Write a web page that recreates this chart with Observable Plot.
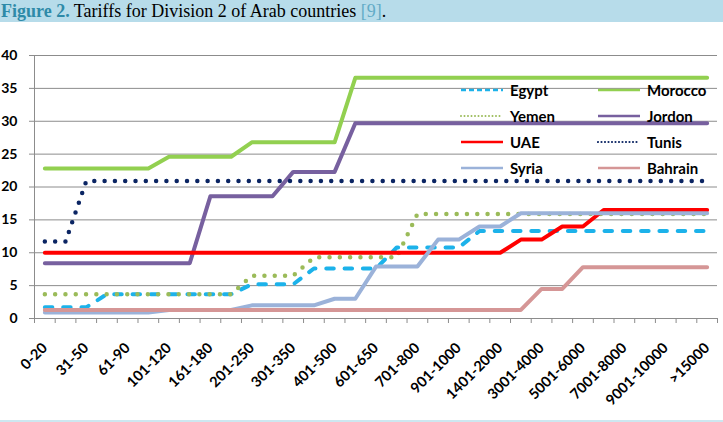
<!DOCTYPE html>
<html>
<head>
<meta charset="utf-8">
<script src="https://cdn.jsdelivr.net/npm/d3@7"></script>
<script src="https://cdn.jsdelivr.net/npm/@observablehq/plot@0.6"></script>
<style>
  html, body { margin: 0; padding: 0; background: #fff; }
  #wrap { position: relative; width: 723px; height: 422px; overflow: hidden; }
  #title {
    height: 22px; line-height: 22px; background: #b7dcea; padding-left: 1px;
    font-family: "Liberation Serif", "Times New Roman", serif; font-size: 18px;
    white-space: nowrap; color: #000;
  }
  #title .fig { color: #2e8aa8; font-weight: bold; }
  #title .ref { color: #62abc6; }
  #chart svg { display: block; }
  #legend {
    position: absolute; left: 460px; top: 77px;
    display: grid; grid-template-columns: 137px 137px; grid-auto-rows: 26px;
    font-family: Lato, sans-serif; font-weight: 700; font-size: 15px; color: #000;
  }
  #legend .item { display: flex; align-items: center; gap: 6px; }
  #foot { position: absolute; left: 0; top: 420px; width: 723px; height: 2px; background: #cde7f0; }
</style>
</head>
<body>
<div id="wrap">
  <div id="title"><span class="fig">Figure 2.</span> Tariffs for Division 2 of Arab countries <span class="ref">[9]</span>.</div>
  <div id="chart"></div>
  <div id="legend"></div>
  <div id="foot"></div>
</div>
<script>
// Consumption bands shown on the axis (every other band is labelled)
const tickLabels = ["0-20", "31-50", "61-90", "101-120", "161-180", "201-250", "301-350",
  "401-500", "601-650", "701-800", "901-1000", "1401-2000", "3001-4000", "5001-6000",
  "7001-8000", "9001-10000", ">15000"];
const bandCount = 33;

// Tariff per consumption band, one value per band
const egypt   = [1.7,1.7,1.7,3.7,3.7,3.7,3.7,3.7,3.7,3.7,5.2,5.2,5.2,7.6,7.6,7.6,7.6,10.8,10.8,10.8,10.8,13.3,13.3,13.3,13.3,13.3,13.3,13.3,13.3,13.3,13.3,13.3,13.3];
const morocco = [22.8,22.8,22.8,22.8,22.8,22.8,24.6,24.6,24.6,24.6,26.8,26.8,26.8,26.8,26.8,36.6,36.6,36.6,36.6,36.6,36.6,36.6,36.6,36.6,36.6,36.6,36.6,36.6,36.6,36.6,36.6,36.6,36.6];
const yemen   = [3.7,3.7,3.7,3.7,3.7,3.7,3.7,3.7,3.7,3.7,6.5,6.5,6.5,9.3,9.3,9.3,9.3,9.3,15.9,15.9,15.9,15.9,15.9,15.9,15.9,15.9,15.9,15.9,15.9,15.9,15.9,15.9,15.9];
const jordon  = [8.4,8.4,8.4,8.4,8.4,8.4,8.4,8.4,18.6,18.6,18.6,18.6,22.3,22.3,22.3,29.7,29.7,29.7,29.7,29.7,29.7,29.7,29.7,29.7,29.7,29.7,29.7,29.7,29.7,29.7,29.7,29.7,29.7];
const uae     = [10,10,10,10,10,10,10,10,10,10,10,10,10,10,10,10,10,10,10,10,10,10,10,12,12,14,14,16.5,16.5,16.5,16.5,16.5,16.5];
const tunis   = [11.7,11.7,20.9,20.9,20.9,20.9,20.9,20.9,20.9,20.9,20.9,20.9,20.9,20.9,20.9,20.9,20.9,20.9,20.9,20.9,20.9,20.9,20.9,20.9,20.9,20.9,20.9,20.9,20.9,20.9,20.9,20.9,20.9];
const syria   = [0.9,0.9,0.9,0.9,0.9,0.9,1.3,1.3,1.3,1.3,2.0,2.0,2.0,2.0,3.0,3.0,7.9,7.9,7.9,12.0,12.0,14.0,14.0,16.0,16.0,16.0,16.0,16.0,16.0,16.0,16.0,16.0,16.0];
const bahrain = [1.3,1.3,1.3,1.3,1.3,1.3,1.3,1.3,1.3,1.3,1.3,1.3,1.3,1.3,1.3,1.3,1.3,1.3,1.3,1.3,1.3,1.3,1.3,1.3,4.5,4.5,7.8,7.8,7.8,7.8,7.8,7.8,7.8];

// Series styles, in drawing (and legend) order
const series = [
  {name: "Egypt",   values: egypt,   color: "#1cb2ea", width: 4,   dash: "7.5 10.8", legendDash: "5 3",  legendWidth: 2.5},
  {name: "Morocco", values: morocco, color: "#92d050", width: 4,   dash: null,       legendDash: null,   legendWidth: 2.5},
  {name: "Yemen",   values: yemen,   color: "#9bbb59", width: 4.5, dash: "0 10.3",   legendDash: "0 3.5", legendWidth: 2},
  {name: "Jordon",  values: jordon,  color: "#77609f", width: 4,   dash: null,       legendDash: null,   legendWidth: 2.5},
  {name: "UAE",     values: uae,     color: "#ff0000", width: 4,   dash: null,       legendDash: null,   legendWidth: 2.5},
  {name: "Tunis",   values: tunis,   color: "#0b2563", width: 4.5, dash: "0 10.3",   legendDash: "0 3.5", legendWidth: 2.2},
  {name: "Syria",   values: syria,   color: "#9bb2d9", width: 4,   dash: null,       legendDash: null,   legendWidth: 2.5},
  {name: "Bahrain", values: bahrain, color: "#d59696", width: 4,   dash: null,       legendDash: null,   legendWidth: 2.5}
];

const gray = "#8c8c8c";
const bandEdges = d3.range(bandCount + 1).map(k => k - 0.5);
const labelledBands = tickLabels.map((_, k) => 2 * k);

const chart = Plot.plot({
  width: 723,
  height: 398,
  marginTop: 33,
  marginBottom: 102,
  marginLeft: 34,
  marginRight: 6,
  style: {fontFamily: "Lato, sans-serif", fontWeight: "700", color: "#000", background: "transparent"},
  x: {type: "linear", domain: [-0.5, bandCount - 0.5]},
  y: {domain: [0, 40]},
  marks: [
    Plot.gridY(d3.range(0, 41, 5), {stroke: gray, strokeOpacity: 1}),
    Plot.ruleX([bandEdges[0]], {stroke: gray}),
    Plot.axisY(d3.range(0, 41, 5), {tickSize: 5, tickPadding: 12, stroke: gray, fontSize: 14}),
    Plot.axisX(bandEdges, {tickSize: 5, stroke: gray, tickFormat: () => ""}),
    Plot.axisX(labelledBands, {tickSize: 0, tickPadding: 27, tickRotate: -45, fontSize: 14.5,
      tickFormat: i => tickLabels[i / 2]}),
    ...series.map(s => Plot.line(s.values, {
      x: (d, i) => i,
      y: d => d,
      stroke: s.color,
      strokeWidth: s.width,
      strokeDasharray: s.dash,
      strokeLinecap: "round",
      strokeLinejoin: "round"
    }))
  ]
});
document.getElementById("chart").append(chart);

// Legend: two columns, sample line followed by the series name
const legend = d3.select("#legend");
for (const s of series) {
  const item = legend.append("div").attr("class", "item");
  const svg = item.append("svg").attr("width", 44).attr("height", 10);
  svg.append("line")
    .attr("x1", 1).attr("x2", 43).attr("y1", 5).attr("y2", 5)
    .attr("stroke", s.color)
    .attr("stroke-width", s.legendWidth)
    .attr("stroke-linecap", s.dash && s.dash.startsWith("0") ? "round" : "butt")
    .attr("stroke-dasharray", s.legendDash);
  item.append("span").text(s.name);
}
</script>
</body>
</html>
